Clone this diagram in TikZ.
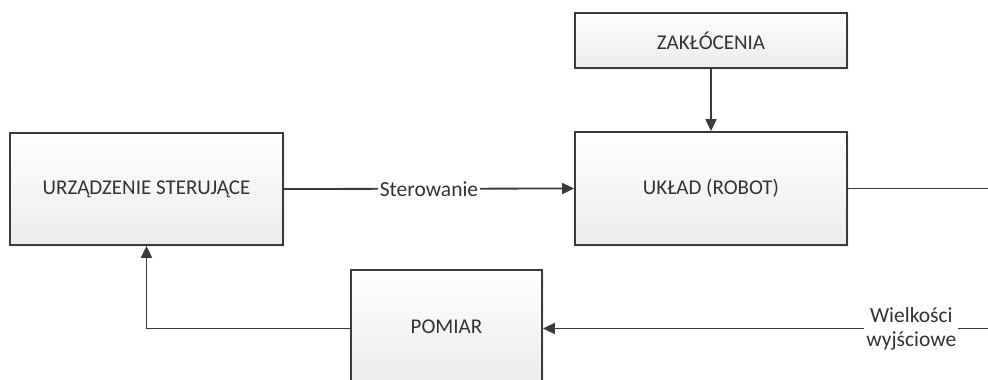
\documentclass[tikz,border=0pt]{standalone}
\usepackage{fontspec}
\setmainfont{Carlito}
\usetikzlibrary{arrows.meta,shadows}
\definecolor{edge}{HTML}{3A3A3A}
\definecolor{txt}{HTML}{333333}
\tikzset{
  blk/.style={draw=edge, line width=1.8pt, top color=white, bottom color=gray!16,
    drop shadow={shadow xshift=2pt, shadow yshift=-2pt, opacity=0.12},
    inner sep=0pt, text=txt, font=\fontsize{21}{23}\selectfont},
  conn/.style={draw=edge, line width=1.8pt},
  arr/.style={conn, -{Triangle[length=12pt,width=11pt]}},
  lbl/.style={fill=white, text=txt, inner sep=2pt, font=\fontsize{21.5}{24}\selectfont, align=center}
}
\begin{document}
\begin{tikzpicture}[x=1pt,y=-1pt]
\useasboundingbox (0,0) rectangle (988,380);
\clip (0,0) rectangle (988,380);
\fill[white] (0,0) rectangle (988,380);
\node[blk, minimum width=273pt, minimum height=112pt] (urz) at (146.5,189) {URZĄDZENIE STERUJĄCE};
\node[blk, minimum width=272pt, minimum height=113pt] (uklad) at (711,188.5) {UKŁAD (ROBOT)};
\node[blk, minimum width=272pt, minimum height=55pt] (zak) at (711,40.5) {ZAKŁÓCENIA};
\node[blk, minimum width=191pt, minimum height=113pt] (pom) at (446.5,326.5) {POMIAR};
\coordinate (outR) at (990,188.5);
\coordinate (inR) at (990,328.5);
\draw[arr] (urz.east) -- node[lbl, pos=0.5] {Sterowanie} (uklad.west);
\draw[arr] (zak.south) -- (uklad.north);
\draw[conn] (uklad.east) -- (outR);
\draw[arr] (inR) -- node[lbl, pos=0.176] {Wielkości\\wyjściowe} (pom.east |- inR);
\draw[arr] (pom.west |- inR) -| (urz.south);
\end{tikzpicture}
\end{document}
